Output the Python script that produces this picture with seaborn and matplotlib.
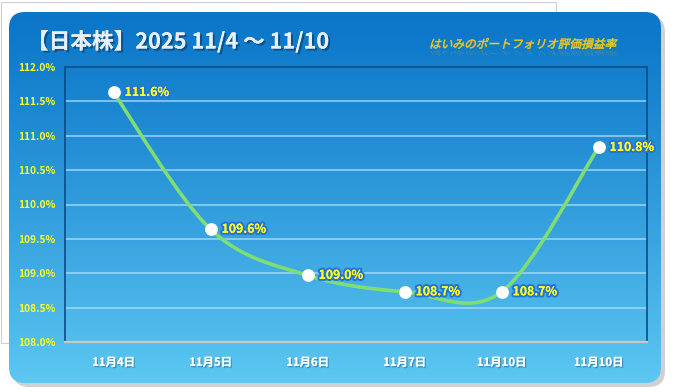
import numpy as np
import pandas as pd
import matplotlib
matplotlib.use("Agg")
import matplotlib.pyplot as plt
import matplotlib.patheffects as pe
import seaborn as sns
from matplotlib.patches import FancyBboxPatch, PathPatch, Rectangle
from matplotlib.path import Path
from matplotlib.textpath import TextPath
from matplotlib.font_manager import FontProperties
from matplotlib.transforms import Affine2D

# data
dates = ["11月4日", "11月5日", "11月6日", "11月7日", "11月10日", "11月10日"]
values = [111.63, 109.64, 108.97, 108.73, 108.73, 110.83]
value_labels = ["111.6%", "109.6%", "109.0%", "108.7%", "108.7%", "110.8%"]
y_ticks = [108.0, 108.5, 109.0, 109.5, 110.0, 110.5, 111.0, 111.5, 112.0]

title = "【日本株】2025 11/4 〜 11/10"
subtitle = "はいみのポートフォリオ評価損益率"

df = pd.DataFrame({"pos": range(len(dates)), "date": dates, "value": values})

W, H = 674, 392
sns.set_style("white")
plt.rcParams["font.family"] = ["Noto Sans CJK JP", "DejaVu Sans"]

fig = plt.figure(figsize=(W / 100, H / 100), dpi=100)
fig.patch.set_facecolor("white")

# background layer in pixel coordinates (y down)
bg = fig.add_axes([0, 0, 1, 1])
bg.set_xlim(0, W)
bg.set_ylim(H, 0)
bg.axis("off")

bg.add_patch(Rectangle((1, 2), 555, 341, fc="white", ec="#CFCFCF", lw=0.8))

shadow = FancyBboxPatch((13, 16), 652, 371, boxstyle="round,pad=0,rounding_size=16",
                        fc="#9A9A9A", ec="none", alpha=0.45)
bg.add_patch(shadow)
panel = FancyBboxPatch((9, 12), 652, 371, boxstyle="round,pad=0,rounding_size=16",
                       fc="none", ec="none")
bg.add_patch(panel)

top = np.array([11, 118, 200]) / 255
bottom = np.array([92, 200, 242]) / 255
t = np.linspace(0, 1, 256) ** 1.15
grad = (top[None, :] * (1 - t[:, None]) + bottom[None, :] * t[:, None])[:, None, :]
im = bg.imshow(grad, extent=[9, 661, 383, 12], aspect="auto", interpolation="bilinear", zorder=1)
im.set_clip_path(panel)

bg.text(27, 42, title, fontsize=15.6, fontweight="bold", color="#E8EFF7", va="center", zorder=3,
        path_effects=[pe.withSimplePatchShadow(offset=(1.5, -1.5), shadow_rgbFace="#07416F", alpha=0.7),
                      pe.Normal()])

# italic subtitle with reflection
fp = FontProperties(family="Noto Sans CJK JP")
tp = TextPath((0, 0), subtitle, size=11.7, prop=fp)
skew = Affine2D().skew_deg(14, 0)
bg.add_patch(PathPatch(tp, fc="#F4C81A", ec="#F4C81A", lw=0.35, zorder=3,
                       transform=skew + Affine2D().scale(1, -1).translate(429, 48) + bg.transData))
bg.add_patch(PathPatch(tp, fc="#F4C81A", ec="none", alpha=0.2, zorder=3,
                       transform=skew + Affine2D().scale(1, 0.5).translate(429, 51) + bg.transData))

# plot area
ax = fig.add_axes([65 / W, 1 - 342 / H, 582 / W, 275 / H])
ax.patch.set_alpha(0)
ax.set_xlim(-0.5, len(dates) - 0.5)
ax.set_ylim(108.0, 112.0)

for y in y_ticks[1:-1]:
    ax.axhline(y, color="#A9D9F7", lw=1.2, alpha=0.85, zorder=1)

# smoothed line through the points (Catmull-Rom as cubic Bezier)
pts = df[["pos", "value"]].to_numpy(dtype=float)
ext = np.vstack([pts[0], pts, pts[-1]])
verts = [pts[0]]
codes = [Path.MOVETO]
for i in range(len(pts) - 1):
    p0, p1, p2, p3 = ext[i], ext[i + 1], ext[i + 2], ext[i + 3]
    verts += [p1 + (p2 - p0) / 6, p2 - (p3 - p1) / 6, p2]
    codes += [Path.CURVE4] * 3
ax.add_patch(PathPatch(Path(verts, codes), fc="none", ec="#7FDD72", lw=2.6, zorder=3,
                       capstyle="round"))

sns.scatterplot(data=df, x="pos", y="value", s=85, color="white", edgecolor="white",
                linewidth=0, zorder=5, ax=ax, legend=False)

for x, y, lab in zip(df["pos"], df["value"], value_labels):
    ax.annotate(lab, (x, y), xytext=(8, 0), textcoords="offset points", va="center", ha="left",
                fontsize=8.8, fontweight="bold", color="#FFFF1E", zorder=6,
                path_effects=[pe.withStroke(linewidth=3, foreground="#2474D8"), pe.Normal()])

ax.set_yticks(y_ticks)
ax.set_yticklabels([f"{v:.1f}%" for v in y_ticks], fontsize=7.3, fontweight="bold", color="#FFFF20")
ax.set_xticks(df["pos"])
ax.set_xticklabels(dates, fontsize=8.2, fontweight="bold", color="white",
                   path_effects=[pe.withSimplePatchShadow(offset=(1, -1), shadow_rgbFace="#2C6E9E", alpha=0.6),
                                 pe.Normal()])
ax.set_xticks(np.arange(-0.5, len(dates)), minor=True)
ax.tick_params(axis="x", which="major", length=0, pad=10)
ax.tick_params(axis="x", which="minor", length=4, width=1.2, color="#C8C8C8", direction="out")
ax.tick_params(axis="y", length=0, pad=7)
ax.set_xlabel("")
ax.set_ylabel("")

for side in ["left", "top", "right"]:
    ax.spines[side].set_color("#0A4C86")
    ax.spines[side].set_linewidth(1.2)
    ax.spines[side].set_visible(True)
ax.spines["bottom"].set_color("#C8C8C8")
ax.spines["bottom"].set_linewidth(1.6)
ax.spines["bottom"].set_visible(True)

fig.savefig("out.png", dpi=100)
